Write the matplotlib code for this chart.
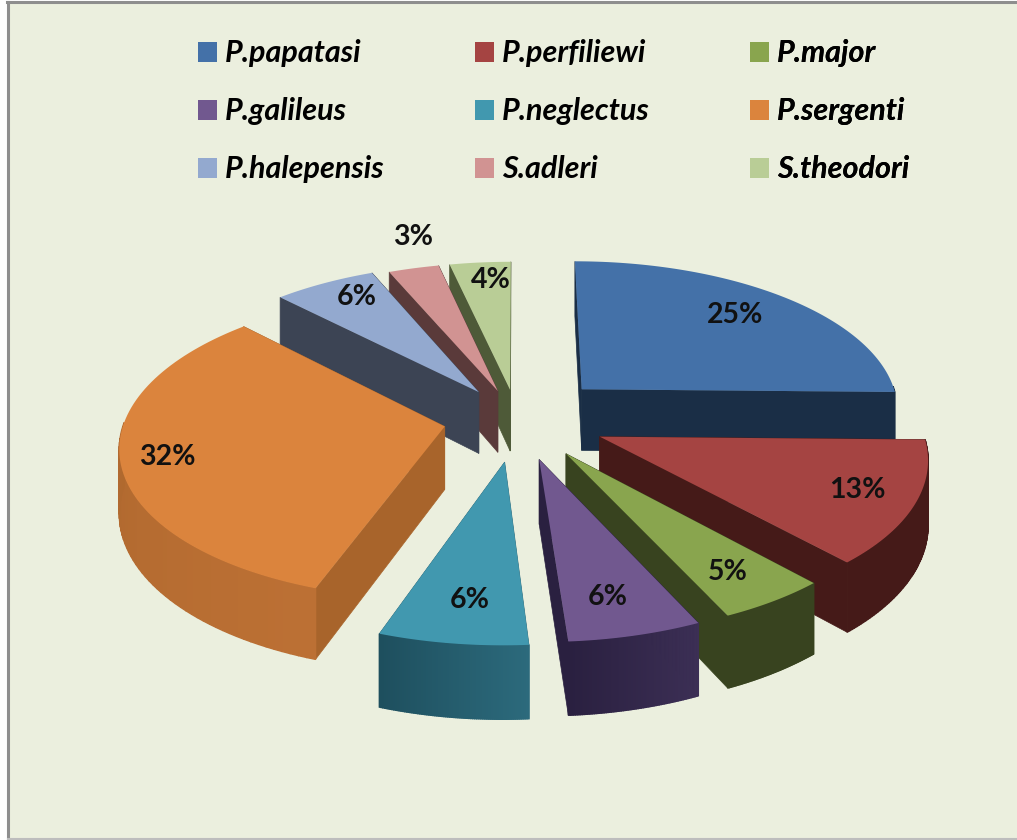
import numpy as np
import matplotlib
matplotlib.use('Agg')
import matplotlib.pyplot as plt
from matplotlib.colors import to_rgb
from matplotlib.patches import Patch, Polygon, Rectangle

species = ['P.papatasi', 'P.perfiliewi', 'P.major', 'P.galileus', 'P.neglectus',
           'P.sergenti', 'P.halepensis', 'S.adleri', 'S.theodori']
# estimated before rounding, the labels only show whole percents
percent = [25.3, 13.0, 4.8, 5.8, 6.45, 32.35, 5.9, 2.9, 3.5]

top_colors = ['#4471A8', '#A54442', '#89A54E', '#71588F', '#4198AF',
              '#DB843D', '#93A9CF', '#D19392', '#B9CD96']
face_colors = ['#1A2E46', '#451A18', '#38431F', '#2A2040', '#2C6A7C',
               '#A8642B', '#3C4454', '#5A3A3A', '#4E5A38']
rim_a = ['#1A2E46', '#451A18', '#38431F', '#3C2F55', '#2C6A7C',
         '#BC7034', '#3C4454', '#5A3A3A', '#4E5A38']
rim_b = ['#1A2E46', '#451A18', '#38431F', '#2A2040', '#1E4F5E',
         '#A8642B', '#3C4454', '#5A3A3A', '#4E5A38']

explode = [0.29, 0.28, 0.27, 0.27, 0.28, 0.23, 0.22, 0.2, 0.2]
label_r = [0.77, 0.82, 0.81, 0.80, 0.78, 0.86, 0.836, 1.27, 0.847]
label_da = [-0.018, -0.01, 0.01, 0.016, -0.012, -0.01, 0.033, 0.05, 0.023]
draw_order = [8, 7, 6, 0, 5, 1, 2, 3, 4]

BG = '#EBEFDE'
CX, CY, R, TILT, K, H = 517, 419, 320, 150, 0.12, 72


def project(u, v, drop=0.0):
    d = 1 + K * v
    return CX + R * u / d, CY - TILT * v / d + drop / d * 0.87


def slice_points(a0, a1, off, n=80):
    t = np.linspace(a0, a1, n)
    return off[0] + np.sin(t), off[1] + np.cos(t), t


fig = plt.figure(figsize=(10.17, 8.4), dpi=100, facecolor='white')
ax = fig.add_axes([0, 0, 1, 1])
ax.set_xlim(0, 1017)
ax.set_ylim(840, 0)
ax.axis('off')

ax.add_patch(Rectangle((8, 3), 1012, 835, facecolor=BG, edgecolor='none', zorder=0))
ax.plot([8, 8], [2, 840], color='#8E8E8E', lw=2.2, zorder=1)
ax.plot([7, 1017], [2, 2], color='#8E8E8E', lw=2.2, zorder=1)
ax.plot([8, 1017], [839, 839], color='#BDBDBD', lw=1.5, zorder=1)

edges = 2 * np.pi * np.cumsum([0] + percent) / sum(percent)
z = 2
for i in draw_order:
    a0, a1 = edges[i], edges[i + 1]
    mid = (a0 + a1) / 2
    off = (explode[i] * np.sin(mid), explode[i] * np.cos(mid))
    u, v, t = slice_points(a0, a1, off)
    apex = project(off[0], off[1])
    apex_low = project(off[0], off[1], H)

    # the two cut faces
    for j in (0, -1):
        p, q = project(u[j], v[j]), project(u[j], v[j], H)
        ax.add_patch(Polygon([apex, p, q, apex_low], facecolor=face_colors[i],
                             edgecolor=face_colors[i], lw=0.5, zorder=z))
    z += 1

    # outer rim, only where it faces the viewer
    ca, cb = np.array(to_rgb(rim_a[i])), np.array(to_rgb(rim_b[i]))
    for j in range(len(t) - 1):
        if np.cos(t[j]) > 0.02 and np.cos(t[j + 1]) > 0.02:
            continue
        f = j / (len(t) - 2)
        col = ca * (1 - f) + cb * f
        pts = [project(u[j], v[j]), project(u[j + 1], v[j + 1]),
               project(u[j + 1], v[j + 1], H), project(u[j], v[j], H)]
        ax.add_patch(Polygon(pts, facecolor=col, edgecolor=col, lw=1.0, zorder=z))
    z += 1

    top = [apex] + [project(a, b) for a, b in zip(u, v)]
    ax.add_patch(Polygon(top, facecolor=top_colors[i], edgecolor='none', zorder=z))
    z += 1

for i in range(len(percent)):
    mid = (edges[i] + edges[i + 1]) / 2 + label_da[i]
    lu = (explode[i] + label_r[i]) * np.sin(mid)
    lv = (explode[i] + label_r[i]) * np.cos(mid)
    x, y = project(lu, lv)
    ax.text(x, y, f'{round(percent[i] + 1e-6)}%', ha='center', va='center', fontsize=20.5,
            fontweight='bold', family='Lato', color='#111111', zorder=100)

# one legend per column so the columns sit where they should
handles = [Patch(facecolor=c, edgecolor='none', label=s) for c, s in zip(top_colors, species)]
for col, x0 in enumerate([0.1947, 0.4671, 0.7375]):
    idx = [col, col + 3, col + 6]
    leg = ax.legend([handles[i] for i in idx], [species[i] for i in idx],
                    loc='upper left', bbox_to_anchor=(x0, 0.953), frameon=False,
                    prop={'family': 'Lato', 'weight': 'bold', 'style': 'italic', 'size': 22},
                    handlelength=0.62, handleheight=0.62, handletextpad=0.26,
                    labelspacing=0.98, borderpad=0, borderaxespad=0)
    leg.set_zorder(100)
    ax.add_artist(leg)

fig.savefig('out.png', dpi=100, facecolor=fig.get_facecolor())
